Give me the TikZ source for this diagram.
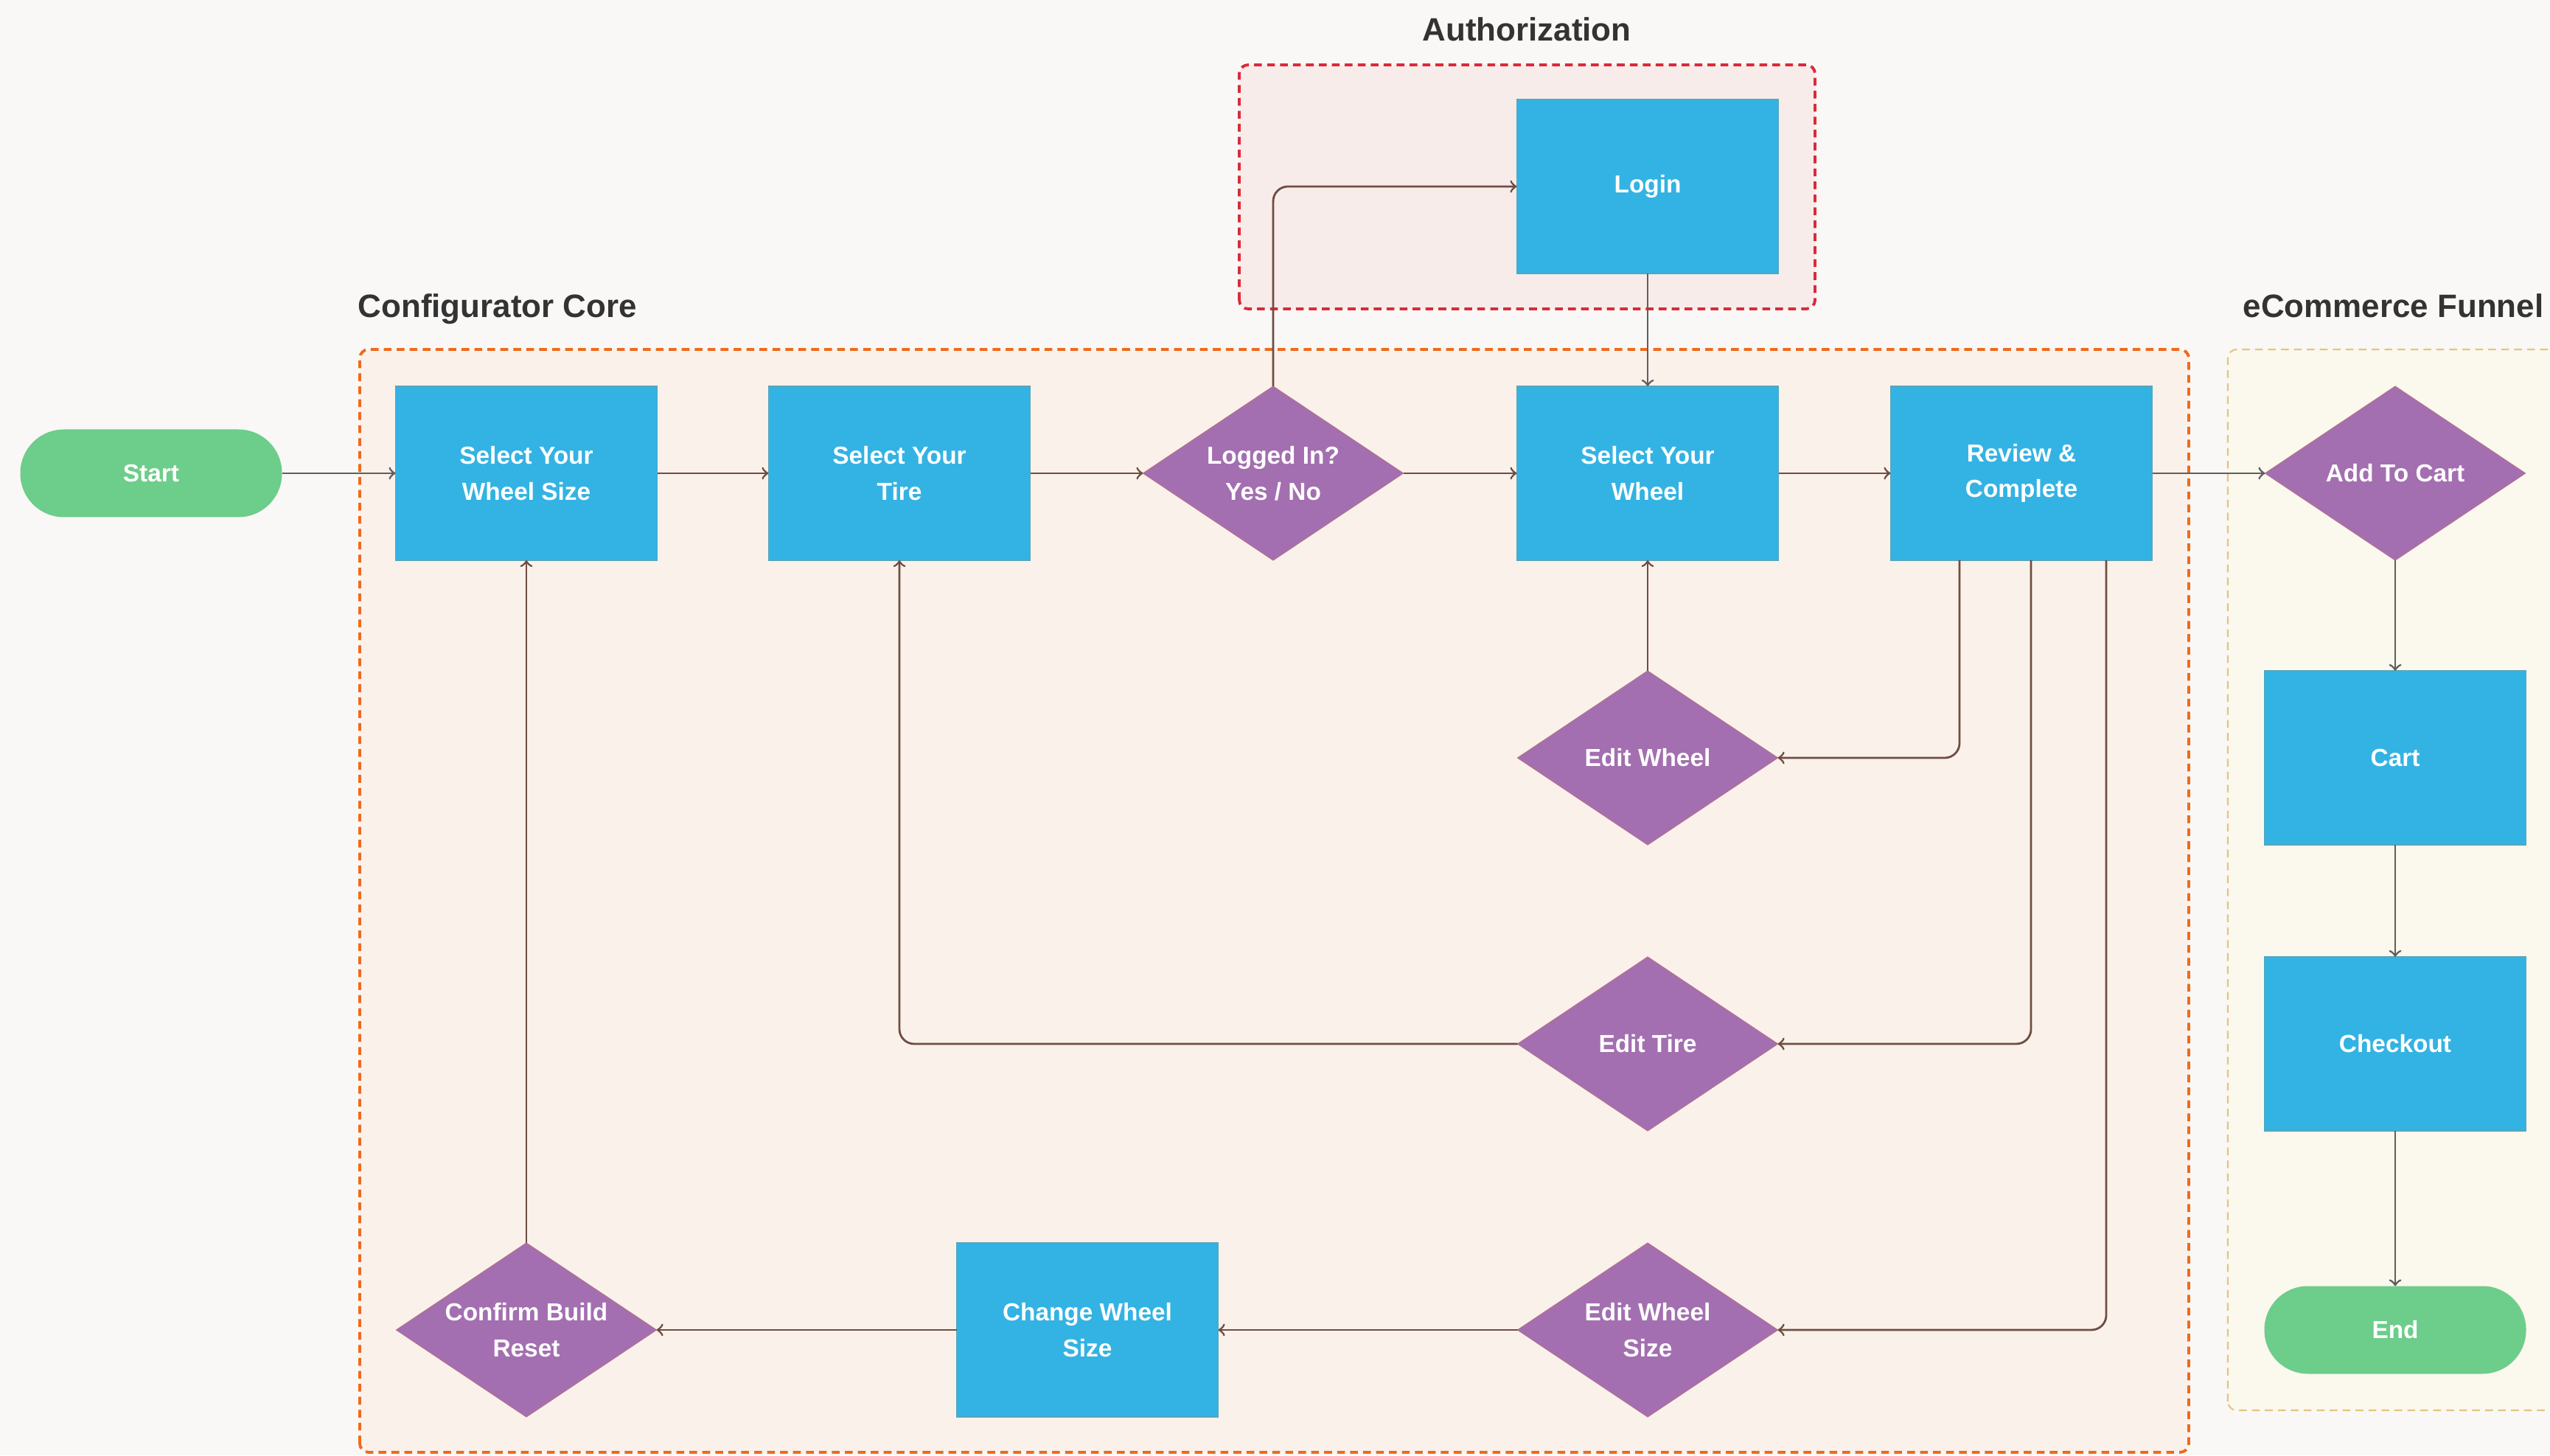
\documentclass[tikz,border=0pt]{standalone}
\usepackage{fontspec}
\setmainfont{Liberation Sans}
\usetikzlibrary{positioning,shapes.geometric}

\definecolor{pagebg}{HTML}{F9F8F6}
\definecolor{corefill}{HTML}{FAF1EB}
\definecolor{coreline}{HTML}{EE6A1C}
\definecolor{authfill}{HTML}{F8ECEB}
\definecolor{authline}{HTML}{D92B3A}
\definecolor{shopfill}{HTML}{FBF8EE}
\definecolor{shopline}{HTML}{E2C67E}
\definecolor{stepblue}{HTML}{33B3E3}
\definecolor{askpurple}{HTML}{A36FB0}
\definecolor{endgreen}{HTML}{6DCD8A}
\definecolor{titlegray}{HTML}{333333}
\definecolor{linkbrown}{HTML}{6E4D42}
\definecolor{linkgray}{HTML}{5F5F5F}

\tikzset{
  stepbox/.style={rectangle, fill=stepblue, draw=stepblue!75!brown, line width=0.3pt,
    minimum width=3.55cm, minimum height=2.36cm, inner sep=0pt, outer sep=0pt,
    text=white, font=\bfseries\fontsize{9.5}{13.8}\selectfont, align=center},
  ask/.style={diamond, fill=askpurple, draw=askpurple!80!orange, line width=0.3pt,
    minimum width=3.53cm, minimum height=2.36cm, inner sep=0pt, outer sep=0pt, aspect=1.5,
    text=white, font=\bfseries\fontsize{9.5}{13.8}\selectfont, align=center},
  terminal/.style={rectangle, rounded corners=0.59cm, fill=endgreen,
    minimum width=3.55cm, minimum height=1.19cm, inner sep=0pt, outer sep=0pt,
    text=white, font=\bfseries\fontsize{9.5}{13.8}\selectfont},
  flow/.style={->, draw=linkbrown, line width=0.8pt, rounded corners=0.2cm},
  flowgray/.style={flow, draw=linkgray},
  groupbox/.style={dashed, dash pattern=on 3pt off 2pt, line width=1.1pt, rounded corners=0.12cm},
  grouptitle/.style={text=titlegray, font=\bfseries\fontsize{12.5}{15}\selectfont, inner sep=0pt}
}

\begin{document}
\begin{tikzpicture}
\fill[pagebg] (0,0) rectangle (34.59,19.74);
\useasboundingbox (0,0) rectangle (34.59,19.74);

\filldraw[groupbox, fill=corefill, draw=coreline] (4.88,0.04) rectangle (29.69,15.00);
\filldraw[groupbox, fill=authfill, draw=authline] (16.81,15.55) rectangle (24.62,18.86);
\filldraw[groupbox, fill=shopfill, draw=shopline, line width=0.6pt] (30.22,0.61) rectangle (34.90,15.00);

\node[grouptitle, anchor=base west] (coretitle) at (4.85,15.43) {Configurator Core};
\node[grouptitle, anchor=base] (authtitle) at (20.71,19.18) {Authorization};
\node[grouptitle, anchor=base west] (shoptitle) at (30.42,15.43) {eCommerce Funnel};

\node[terminal] (start) at (2.05,13.32) {Start};
\node[stepbox] (wheelsize) at (7.14,13.32) {Select Your\\Wheel Size};
\node[stepbox] (tire) at (12.20,13.32) {Select Your\\Tire};
\node[ask] (logged) at (17.27,13.32) {Logged In?\\Yes / No};
\node[stepbox] (wheel) at (22.35,13.32) {Select Your\\Wheel};
\node[stepbox] (review) at (27.42,13.32) {Review \&\\Complete};
\node[ask] (addcart) at (32.49,13.32) {Add To Cart};
\node[stepbox] (login) at (22.35,17.21) {Login};

\node[ask] (editwheel) at (22.35,9.46) {Edit Wheel};
\node[ask] (edittire) at (22.35,5.58) {Edit Tire};
\node[ask] (editsize) at (22.35,1.70) {Edit Wheel\\Size};
\node[stepbox] (changesize) at (14.75,1.70) {Change Wheel\\Size};
\node[ask] (confirm) at (7.14,1.70) {Confirm Build\\Reset};

\node[stepbox] (cart) at (32.49,9.46) {Cart};
\node[stepbox] (checkout) at (32.49,5.58) {Checkout};
\node[terminal] (end) at (32.49,1.70) {End};

\draw[flowgray] (start) -- (wheelsize);
\draw[flow] (wheelsize) -- (tire);
\draw[flow] (tire) -- (logged);
\draw[flow] (logged) -- (wheel);
\draw[flow] (logged.north) |- (login.west);
\draw[flowgray] (login) -- (wheel);
\draw[flow] (wheel) -- (review);
\draw[flowgray] (review) -- (addcart);
\draw[flowgray] (addcart) -- (cart);
\draw[flowgray] (cart) -- (checkout);
\draw[flowgray] (checkout) -- (end);

\draw[flow] ([xshift=-0.84cm]review.south) |- (editwheel.east);
\draw[flow] ([xshift=0.13cm]review.south) |- (edittire.east);
\draw[flow] ([xshift=1.15cm]review.south) |- (editsize.east);
\draw[flow] (editwheel) -- (wheel);
\draw[flow] (edittire.west) -| (tire.south);
\draw[flow] (editsize) -- (changesize);
\draw[flow] (changesize) -- (confirm);
\draw[flow] (confirm) -- (wheelsize);
\end{tikzpicture}
\end{document}
